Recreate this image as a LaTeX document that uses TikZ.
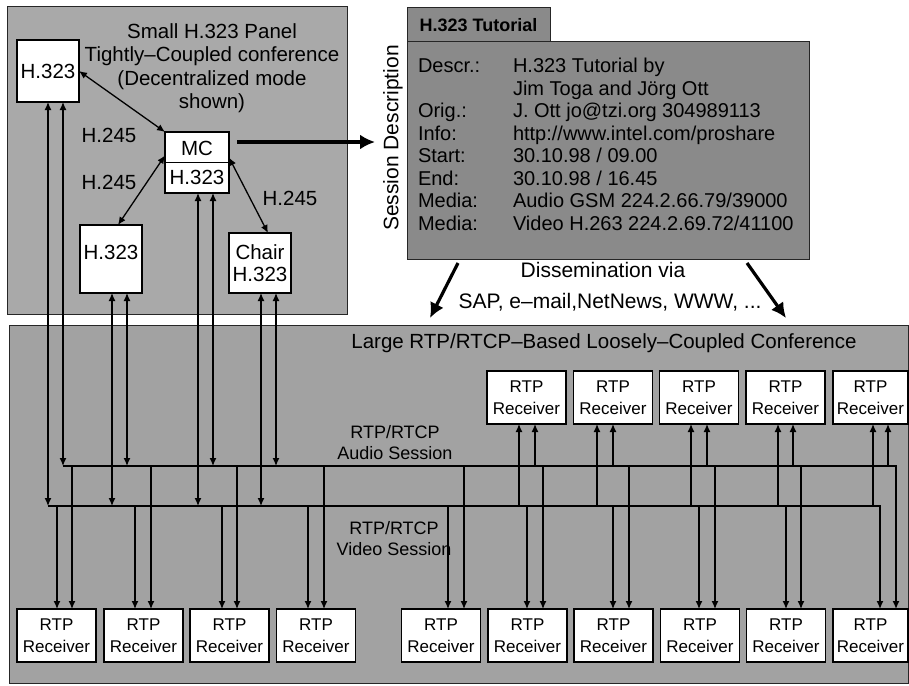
\documentclass[tikz,border=0pt]{standalone}
\usepackage{fontspec}
\setmainfont{Liberation Sans}
\usetikzlibrary{arrows.meta,calc}
\definecolor{panelA}{HTML}{A9A9A9}
\definecolor{panelB}{HTML}{A2A2A2}
\definecolor{sdgray}{HTML}{8A8A8A}
\begin{document}
\begin{tikzpicture}[x=1pt,y=-1pt,
  every node/.style={inner sep=0pt,outer sep=0pt},
  panel/.style={draw=black!85,line width=1pt},
  box/.style={draw=black,line width=1.6pt,fill=white,align=center},
  big/.style={font=\fontsize{20.5}{23.5}\selectfont},
  rcv/.style={box,minimum width=79pt,minimum height=53pt,font=\fontsize{17}{21.5}\selectfont},
  rcvlast/.style={rcv,minimum width=75pt},
  conn/.style={line width=1.3pt},
  tipend/.style={-{Latex[length=8pt,width=7pt]}},
  tipboth/.style={{Latex[length=8pt,width=7pt]}-{Latex[length=8pt,width=7pt]}},
  fatarrow/.style={line width=3.2pt,-{Latex[length=15pt,width=15pt]}},
  sdtext/.style={anchor=base west,font=\fontsize{20}{22}\selectfont},
]
\useasboundingbox (0,0) rectangle (909,685);
\fill[white] (0,0) rectangle (909,685);

% ---------- panels ----------
\draw[panel,fill=panelA] (7,7) rectangle (347,314);
\draw[panel,fill=panelB] (9,325) rectangle (908,683);

% ---------- session description ----------
\node[panel,fill=sdgray,minimum width=143pt,minimum height=34pt,
      font=\bfseries\fontsize{18}{20}\selectfont] (tab) at (478.5,25) {H.323 Tutorial};
\node[panel,fill=sdgray,minimum width=402pt,minimum height=217pt] (sd) at (608,150.5) {};
\node[sdtext] (l1) at (418,72) {Descr.:};
\node[sdtext] (l3) at (418,117) {Orig.:};
\node[sdtext] (l4) at (418,140) {Info:};
\node[sdtext] (l5) at (418,162) {Start:};
\node[sdtext] (l6) at (418,185) {End:};
\node[sdtext] (l7) at (418,207) {Media:};
\node[sdtext] (l8) at (418,230) {Media:};
\node[sdtext] (v1) at (513,72) {H.323 Tutorial by};
\node[sdtext] (v2) at (513,95) {Jim Toga and Jörg Ott};
\node[sdtext] (v3) at (513,117) {J. Ott jo@tzi.org 304989113};
\node[sdtext] (v4) at (513,140) {http://www.intel.com/proshare};
\node[sdtext] (v5) at (513,162) {30.10.98 / 09.00};
\node[sdtext] (v6) at (513,185) {30.10.98 / 16.45};
\node[sdtext] (v7) at (513,207) {Audio GSM 224.2.66.79/39000};
\node[sdtext] (v8) at (513,230) {Video H.263 224.2.69.72/41100};
\node[rotate=90,font=\fontsize{21}{24}\selectfont] (sdl) at (393,138) {Session Description};

\node[font=\fontsize{21}{24}\selectfont] (diss1) at (603,270) {Dissemination via};
\node[font=\fontsize{21}{24}\selectfont] (diss2) at (610,302) {SAP, e–mail,NetNews, WWW, ...};

% ---------- texts ----------
\node[big,align=center] (ptitle) at (212,68) {Small H.323 Panel\\Tightly–Coupled conference\\(Decentralized mode\\shown)};
\node[big] (h1) at (109,135) {H.245};
\node[big] (h2) at (109,182) {H.245};
\node[big] (h3) at (290,198) {H.245};
\node[big] (btitle) at (604,343) {Large RTP/RTCP–Based Loosely–Coupled Conference};
\node[align=center,font=\fontsize{18}{21}\selectfont] (alab) at (395,442.5) {RTP/RTCP\\Audio Session};
\node[align=center,font=\fontsize{18}{21}\selectfont] (vlab) at (394,539) {RTP/RTCP\\Video Session};

% ---------- panel boxes ----------
\node[box,big,minimum width=62pt,minimum height=62pt] (tl) at (48,71) {H.323};
\node[box,big,minimum width=64pt,minimum height=61pt,font=\fontsize{20.5}{29}\selectfont] (mc) at (197,162.5) {MC\\H.323};
\draw[line width=1.6pt] (mc.west) -- (mc.east);
\node[box,big,minimum width=62pt,minimum height=68pt,text height=15pt,text depth=15pt] (ll) at (111,259) {H.323};
\node[box,minimum width=62pt,minimum height=60pt,font=\fontsize{20.5}{21.5}\selectfont] (chair) at (260,263) {Chair\\H.323};

% ---------- receivers ----------
\node[rcv] (t6) at (526.5,397.5) {RTP\\Receiver};
\node[rcv] (t7) at (613,397.5) {RTP\\Receiver};
\node[rcv] (t8) at (699,397.5) {RTP\\Receiver};
\node[rcv] (t9) at (785.5,397.5) {RTP\\Receiver};
\node[rcvlast] (t10) at (870.5,397.5) {RTP\\Receiver};

\node[rcv] (b1) at (56.5,635.5) {RTP\\Receiver};
\node[rcv] (b2) at (143.5,635.5) {RTP\\Receiver};
\node[rcv] (b3) at (229.5,635.5) {RTP\\Receiver};
\node[rcv] (b4) at (316,635.5) {RTP\\Receiver};
\node[rcv] (b5) at (441,635.5) {RTP\\Receiver};
\node[rcv] (b6) at (527.5,635.5) {RTP\\Receiver};
\node[rcv] (b7) at (613.5,635.5) {RTP\\Receiver};
\node[rcv] (b8) at (700,635.5) {RTP\\Receiver};
\node[rcv] (b9) at (786,635.5) {RTP\\Receiver};
\node[rcvlast] (b10) at (870.5,635.5) {RTP\\Receiver};

% ---------- bus coordinates ----------
\coordinate (abus) at (0,466);
\coordinate (vbus) at (0,506);
\coordinate (sdin) at (375,142);
\coordinate (dl) at (430,318);
\coordinate (dr) at (786,318);

% ---------- H.245 connectors ----------
\draw[conn,tipboth] (tl.east) -- (mc.north west);
\draw[conn,tipboth] ($(mc.west)+(0,-7)$) -- ($(ll.north)+(7,0)$);
\draw[conn,tipboth] ($(mc.east)+(0,-5)$) -- ($(chair.north)+(8,0)$);

% ---------- thick arrows ----------
\draw[fatarrow] ($(mc.east)+(8,-20.5)$) -- (sdin);
\draw[fatarrow] ($(sd.south west)+(51,4)$) -- (dl);
\draw[fatarrow] ($(sd.south west)+(340,4)$) -- (dr);

% ---------- buses ----------
\draw[conn,tipend] (63,0 |- abus) -- (896,0 |- abus) -- (896,0 |- b10.north);
\draw[conn,tipend] (48,0 |- vbus) -- (880,0 |- vbus) -- (880,0 |- b10.north);

% panel members to buses
\draw[conn,tipboth] (48,0 |- tl.south) -- (48,0 |- vbus);
\draw[conn,tipboth] (63,0 |- tl.south) -- (63,0 |- abus);
\draw[conn,tipboth] (112,0 |- ll.south) -- (112,0 |- vbus);
\draw[conn,tipboth] (127,0 |- ll.south) -- (127,0 |- abus);
\draw[conn,tipboth] (198,0 |- mc.south) -- (198,0 |- vbus);
\draw[conn,tipboth] (213,0 |- mc.south) -- (213,0 |- abus);
\draw[conn,tipboth] (261,0 |- chair.south) -- (261,0 |- vbus);
\draw[conn,tipboth] (276,0 |- chair.south) -- (276,0 |- abus);

% upper receivers
\foreach \i/\v/\a in {6/519/535, 7/597/613, 8/691/707, 9/778/793, 10/873/888} {
  \draw[conn,tipend] (\v,0 |- vbus) -- (\v,0 |- t\i.south);
  \draw[conn,tipend] (\a,0 |- abus) -- (\a,0 |- t\i.south);
}
% lower receivers
\foreach \i/\v/\a in {1/57/72, 2/135/151, 3/222/237, 4/308/324, 5/448/464, 6/527/543, 7/613/629, 8/699/715, 9/786/801} {
  \draw[conn,tipend] (\v,0 |- vbus) -- (\v,0 |- b\i.north);
  \draw[conn,tipend] (\a,0 |- abus) -- (\a,0 |- b\i.north);
}
\end{tikzpicture}
\end{document}
